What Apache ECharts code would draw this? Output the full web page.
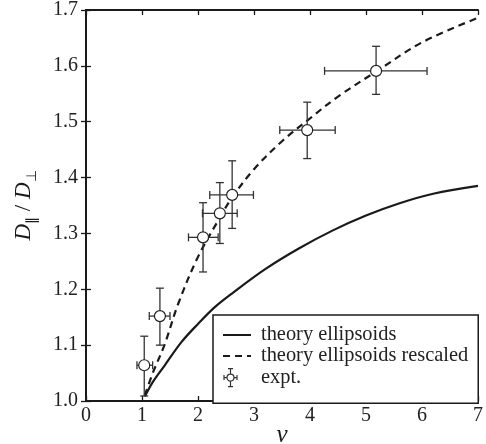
<!DOCTYPE html>
<html>
<head>
<meta charset="utf-8">
<script src="https://cdn.jsdelivr.net/npm/echarts@6/dist/echarts.min.js"></script>
<style>
  html, body { margin: 0; padding: 0; background: #fff; }
  #chart { width: 486px; height: 444px; }
</style>
</head>
<body>
<div id="chart"></div>
<script>
// measured points (nu, D_par / D_perp) with error ranges
var nu = [1.04, 1.32, 2.09, 2.39, 2.61, 3.95, 5.18];
var ratio = [1.064, 1.152, 1.293, 1.336, 1.369, 1.485, 1.591];
var nuLow = [0.91, 1.13, 1.83, 2.08, 2.21, 3.46, 4.26];
var nuHigh = [1.19, 1.50, 2.36, 2.70, 2.99, 4.45, 6.09];
var ratioLow = [1.009, 1.100, 1.231, 1.282, 1.309, 1.434, 1.549];
var ratioHigh = [1.116, 1.202, 1.355, 1.391, 1.430, 1.535, 1.635];

// theory curves
var theoryX = [1.05, 1.2, 1.4, 1.7, 2.0, 2.3, 2.6, 3.2, 3.8, 4.4, 5.0, 5.6, 6.2, 7.0];
var theoryY = [1.008, 1.035, 1.063, 1.105, 1.138, 1.168, 1.192, 1.236, 1.273, 1.305, 1.332, 1.354, 1.371, 1.385];
var rescaledX = [1.05, 1.2, 1.4, 1.65, 2.0, 2.4, 2.6, 3.0, 3.5, 4.0, 4.5, 5.2, 6.0, 7.0];
var rescaledY = [1.01, 1.052, 1.10, 1.175, 1.258, 1.33, 1.363, 1.415, 1.465, 1.506, 1.545, 1.591, 1.642, 1.686];

var xTicks = [0, 1, 2, 3, 4, 5, 6, 7];
var yTicks = [1.0, 1.1, 1.2, 1.3, 1.4, 1.5, 1.6, 1.7];

var FONT = "Liberation Serif";
var INK = "#1a1a1a";

var chart = echarts.init(document.getElementById("chart"));

function zip(xs, ys) {
  return xs.map(function(v, i) { return [v, ys[i]]; });
}

var errData = nu.map(function(v, i) {
  return [v, ratio[i], nuLow[i], nuHigh[i], ratioLow[i], ratioHigh[i]];
});

function renderErr(params, api) {
  var x = api.value(0), y = api.value(1);
  var l = api.coord([api.value(2), y]);
  var r = api.coord([api.value(3), y]);
  var b = api.coord([x, api.value(4)]);
  var t = api.coord([x, api.value(5)]);
  var cap = 4;
  var st = { stroke: "#333", lineWidth: 1.3 };
  function ln(x1, y1, x2, y2) {
    return { type: "line", shape: { x1: x1, y1: y1, x2: x2, y2: y2 }, style: st };
  }
  return {
    type: "group",
    children: [
      ln(l[0], l[1], r[0], r[1]),
      ln(b[0], b[1], t[0], t[1]),
      ln(l[0], l[1] - cap, l[0], l[1] + cap),
      ln(r[0], r[1] - cap, r[0], r[1] + cap),
      ln(b[0] - cap, b[1], b[0] + cap, b[1]),
      ln(t[0] - cap, t[1], t[0] + cap, t[1])
    ]
  };
}

// legend marker: circle with error bars (28x20 box)
var exptIcon = "path://M0 0L0 0M28 20L28 20" +
  "M1 10L4 10M11 10L14 10M1 7.5L1 12.5M14 7.5L14 12.5" +
  "M7.5 1L7.5 6.5M7.5 13.5L7.5 19M5 1L10 1M5 19L10 19" +
  "M11 10A3.5 3.5 0 1 1 4 10A3.5 3.5 0 1 1 11 10Z";

var tickAxis = {
  min: 0,
  max: 7,
  interval: 1,
  axisLine: { show: true, lineStyle: { color: INK, width: 2 } },
  axisTick: { show: true, inside: true, length: 5, lineStyle: { color: INK, width: 1.3 } },
  splitLine: { show: false }
};

var option = {
  animation: false,
  backgroundColor: "#fff",
  textStyle: { fontFamily: FONT },
  grid: { left: 86, right: 8, top: 10, bottom: 43, outerBoundsMode: "none", containLabel: false },
  legend: {
    left: 213,
    top: 315,
    orient: "vertical",
    padding: [10, 10, 15, 9],
    itemWidth: 28,
    itemHeight: 20,
    itemGap: 1,
    backgroundColor: "#fff",
    borderColor: INK,
    borderWidth: 1.5,
    borderRadius: 0,
    selectedMode: false,
    textStyle: { fontFamily: FONT, fontSize: 20.4, lineHeight: 20, color: "#222", padding: [0, 0, 0, 5] },
    data: [
      { name: "theory ellipsoids", itemStyle: { opacity: 0 } },
      { name: "theory ellipsoids rescaled", itemStyle: { opacity: 0 } },
      { name: "expt.", icon: exptIcon, itemStyle: { color: "#fff", borderColor: "#333", borderWidth: 1.2 } }
    ],
    z: 10
  },
  xAxis: [
    Object.assign({}, tickAxis, {
      type: "value",
      position: "bottom",
      name: "ν",
      nameLocation: "middle",
      nameGap: 22,
      nameMoveOverlap: false,
      nameTextStyle: { fontFamily: FONT, fontStyle: "italic", fontSize: 25, color: INK },
      axisLabel: {
        margin: 5,
        fontFamily: FONT,
        fontSize: 20,
        color: "#222",
        formatter: function(v) { return xTicks.indexOf(Math.round(v)) >= 0 ? String(Math.round(v)) : ""; }
      }
    }),
    Object.assign({}, tickAxis, {
      type: "value",
      position: "top",
      axisLabel: { show: false }
    })
  ],
  yAxis: [
    Object.assign({}, tickAxis, {
      type: "value",
      position: "left",
      min: 1.0,
      max: 1.7,
      interval: 0.1,
      name: "{d|D}{s|∥}{n| / }{d|D}{s|⊥}",
      nameLocation: "middle",
      nameRotate: 90,
      nameGap: 47,
      nameTextStyle: {
        rich: {
          d: { fontFamily: FONT, fontStyle: "italic", fontSize: 23, lineHeight: 30, color: INK },
          n: { fontFamily: FONT, fontSize: 23, lineHeight: 30, color: INK },
          s: { fontFamily: FONT, fontSize: 14, lineHeight: 14, verticalAlign: "bottom", color: INK }
        }
      },
      axisLabel: {
        margin: 8,
        fontFamily: FONT,
        fontSize: 20,
        color: "#222",
        formatter: function(v) { return v.toFixed(1); }
      }
    }),
    Object.assign({}, tickAxis, {
      type: "value",
      position: "right",
      min: 1.0,
      max: 1.7,
      interval: 0.1,
      axisLabel: { show: false }
    })
  ],
  series: [
    {
      name: "theory ellipsoids",
      type: "line",
      data: zip(theoryX, theoryY),
      smooth: 0.35,
      symbol: "none",
      lineStyle: { color: INK, width: 2.2, type: "solid" },
      itemStyle: { color: INK },
      z: 2
    },
    {
      name: "theory ellipsoids rescaled",
      type: "line",
      data: zip(rescaledX, rescaledY),
      smooth: 0.35,
      symbol: "none",
      lineStyle: { color: INK, width: 2.2, type: [7, 5] },
      itemStyle: { color: INK },
      z: 2
    },
    {
      name: "expt. bars",
      type: "custom",
      renderItem: renderErr,
      data: errData,
      encode: { x: [0, 2, 3], y: [1, 4, 5] },
      z: 3
    },
    {
      name: "expt.",
      type: "scatter",
      data: zip(nu, ratio),
      symbol: "circle",
      symbolSize: 11,
      itemStyle: { color: "#fff", borderColor: "#222", borderWidth: 1.2, opacity: 1 },
      z: 4
    }
  ]
};

chart.setOption(option);
</script>
</body>
</html>
